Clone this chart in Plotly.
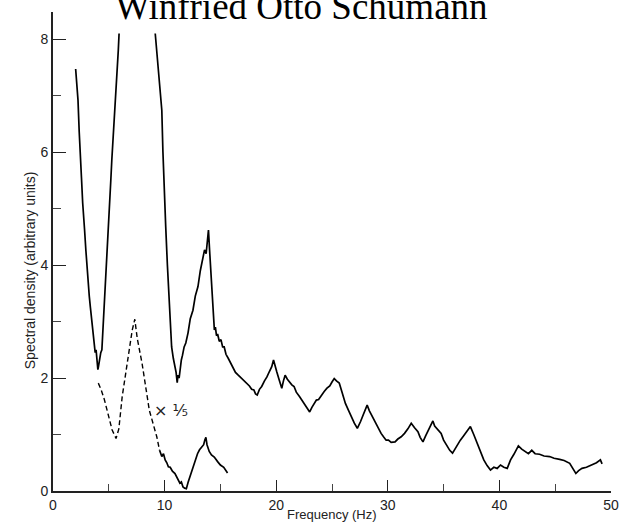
import plotly.graph_objects as go

# Upper (solid) spectrum, first part (up to where it leaves the chart)
freq_a = [2.03, 2.12, 2.24, 2.35, 2.47, 2.55, 2.66, 2.75, 2.83, 2.95, 3.05, 3.12, 3.25, 3.35, 3.47,
          3.58, 3.68, 3.78, 3.86, 3.95, 4.02, 4.07, 4.13, 4.2, 4.28, 4.38, 4.5, 4.6, 4.68, 4.8,
          4.95, 5.08, 5.18, 5.27, 5.38, 5.48, 5.6, 5.7, 5.77, 5.85, 5.92]
dens_a = [7.47, 7.2, 6.92, 6.35, 5.73, 5.55, 5.1, 4.9, 4.62, 4.25, 3.95, 3.68, 3.45, 3.25, 3.03,
          2.75, 2.55, 2.45, 2.5, 2.35, 2.15, 2.2, 2.3, 2.42, 2.45, 2.5, 2.95, 3.2, 3.38, 3.95,
          4.62, 5.05, 5.5, 5.86, 6.2, 6.62, 6.9, 7.3, 7.5, 7.8, 8.1]

# Upper (solid) spectrum, second part
freq_b = [9.16, 9.4, 9.6, 9.75, 9.85, 9.95, 10.1, 10.25, 10.4, 10.52, 10.63, 10.78, 10.93, 11.03,
          11.13, 11.2, 11.3, 11.4, 11.5, 11.6, 11.75, 11.9, 12.1, 12.3, 12.54, 12.75, 12.99, 13.2,
          13.43, 13.58, 13.72, 13.85, 13.93, 14.02, 14.1, 14.25, 14.36, 14.46, 14.55, 14.65, 14.75,
          14.9, 15.05, 15.2, 15.34, 15.5, 15.7, 15.93, 16.15, 16.35, 16.6, 16.85, 17.1, 17.35, 17.6,
          17.8, 18.0, 18.15, 18.3, 18.5, 18.7, 18.95, 19.17, 19.4, 19.6, 19.76, 19.9, 20.05, 20.25,
          20.5, 20.65, 20.8, 21.0, 21.2, 21.4, 21.6, 21.8, 22.1, 22.35, 22.6, 22.8, 23.0, 23.2, 23.4,
          23.6, 23.8, 24.05, 24.3, 24.55, 24.8, 25.0, 25.2, 25.4, 25.65, 25.9, 26.2, 26.5, 26.75,
          27.0, 27.27, 27.4, 27.56, 27.8, 28.0, 28.15, 28.35, 28.6, 28.9, 29.15, 29.4, 29.65, 29.85,
          30.06, 30.3, 30.65, 30.9, 31.2, 31.5, 31.8, 32.1, 32.4, 32.7, 32.9, 33.15, 33.4, 33.7,
          34.04, 34.2, 34.5, 34.78, 35.0, 35.3, 35.55, 35.8, 36.1, 36.5, 36.8, 37.1, 37.4, 37.7,
          38.0, 38.3, 38.6, 38.9, 39.2, 39.5, 39.8, 40.1, 40.4, 40.7, 41.0, 41.3, 41.7, 42.0, 42.3,
          42.6, 42.9, 43.2, 43.6, 44.0, 44.5, 44.9, 45.4, 45.8, 46.3, 46.6, 46.85, 47.1, 47.4, 47.8,
          48.3, 48.7, 49.05, 49.2]
dens_b = [8.1, 7.5, 7.0, 6.74, 6.0, 5.4, 4.68, 4.0, 3.38, 2.95, 2.55, 2.35, 2.2, 2.1,
          1.92, 2.05, 2.0, 2.2, 2.32, 2.4, 2.55, 2.62, 2.8, 3.05, 3.2, 3.45, 3.62, 3.9,
          4.15, 4.27, 4.2, 4.45, 4.62, 4.3, 4.03, 3.4, 3.0, 2.85, 2.9, 2.75, 2.78,
          2.65, 2.68, 2.55, 2.55, 2.42, 2.35, 2.26, 2.15, 2.1, 2.05, 2.0, 1.96, 1.9, 1.86,
          1.8, 1.79, 1.72, 1.70, 1.8, 1.85, 1.95, 2.02, 2.12, 2.2, 2.32, 2.2, 2.11, 1.98,
          1.82, 1.95, 2.05, 1.98, 1.92, 1.88, 1.85, 1.75, 1.67, 1.6, 1.52, 1.46, 1.40, 1.48, 1.55,
          1.61, 1.62, 1.7, 1.76, 1.82, 1.86, 1.93, 1.99, 1.95, 1.91, 1.75, 1.55, 1.42, 1.3,
          1.2, 1.11, 1.16, 1.23, 1.35, 1.45, 1.52, 1.42, 1.32, 1.20, 1.1, 1.02, 0.95, 0.9,
          0.90, 0.86, 0.87, 0.92, 0.96, 1.02, 1.1, 1.20, 1.12, 1.05, 0.95, 0.87, 0.98, 1.1,
          1.24, 1.15, 1.08, 1.02, 0.9, 0.8, 0.72, 0.67, 0.78, 0.90, 0.98, 1.05, 1.14, 1.0,
          0.85, 0.7, 0.55, 0.45, 0.37, 0.42, 0.4, 0.46, 0.42, 0.40, 0.55, 0.65, 0.80, 0.74, 0.70,
          0.66, 0.72, 0.66, 0.65, 0.62, 0.61, 0.58, 0.56, 0.54, 0.49, 0.40, 0.31, 0.36, 0.40, 0.42,
          0.46, 0.50, 0.55, 0.48]

# Lower curve (x 1/5), dashed part
freq_c = [4.06, 4.3, 4.6, 5.0, 5.3, 5.65, 5.9, 6.2, 6.65, 7.1, 7.33, 7.55, 7.98, 8.63, 9.3, 9.55]
dens_c = [1.91, 1.8, 1.62, 1.3, 1.08, 0.93, 1.1, 1.67, 2.26, 2.85, 3.04, 2.7, 2.26, 1.43, 0.96, 0.72]

# Lower curve (x 1/5), solid part
freq_d = [9.55, 9.75, 9.9, 10.05, 10.2, 10.34, 10.5, 10.7, 10.93, 11.1, 11.25, 11.37, 11.5, 11.65,
          11.8, 11.95, 12.1, 12.3, 12.54, 12.75, 12.95, 13.13, 13.3, 13.5, 13.6, 13.7, 13.8, 14.0,
          14.2, 14.45, 14.75, 15.0, 15.3, 15.5, 15.64]
dens_d = [0.72, 0.61, 0.66, 0.55, 0.50, 0.43, 0.42, 0.35, 0.31, 0.25, 0.2, 0.14, 0.16, 0.07,
          0.05, 0.04, 0.15, 0.28, 0.43, 0.55, 0.66, 0.73, 0.78, 0.82, 0.9, 0.95, 0.82, 0.70,
          0.64, 0.6, 0.52, 0.46, 0.42, 0.36, 0.32]

x_ticks = [0, 10, 20, 30, 40, 50]
y_ticks = [0, 2, 4, 6, 8]

line_style = dict(color="black", width=1.7)

fig = go.Figure()
fig.add_trace(go.Scatter(x=freq_a, y=dens_a, mode="lines", line=line_style, showlegend=False))
fig.add_trace(go.Scatter(x=freq_b, y=dens_b, mode="lines", line=line_style, showlegend=False))
fig.add_trace(go.Scatter(x=freq_c, y=dens_c, mode="lines",
                         line=dict(color="black", width=1.4, dash="5px,3px"), showlegend=False))
fig.add_trace(go.Scatter(x=freq_d, y=dens_d, mode="lines", line=line_style, showlegend=False))

tick_font = dict(family="Liberation Sans, Arial, sans-serif", size=14, color="#222")

fig.update_layout(
    width=629, height=526,
    margin=dict(l=53, r=10, t=12, b=35),
    paper_bgcolor="white", plot_bgcolor="white",
    xaxis=dict(range=[0, 50], tickvals=x_ticks, ticktext=[str(v) for v in x_ticks],
               ticks="inside", ticklen=11, tickwidth=1.3, tickcolor="#222",
               minor=dict(dtick=5, tick0=0, ticks="inside", ticklen=7, tickwidth=1.1, tickcolor="#444"),
               showline=True, linecolor="#222", linewidth=1.6, showgrid=False, zeroline=False,
               tickfont=tick_font),
    yaxis=dict(range=[0, 8.48], tickvals=y_ticks, ticktext=[str(v) for v in y_ticks],
               ticks="inside", ticklen=13, tickwidth=1.3, tickcolor="#222",
               minor=dict(dtick=1, tick0=0, ticks="inside", ticklen=8, tickwidth=1.1, tickcolor="#444"),
               showline=True, linecolor="#222", linewidth=1.6, showgrid=False, zeroline=False,
               tickfont=tick_font),
    annotations=[
        dict(text="Winfried Otto Schumann", xref="paper", yref="paper", x=0.445, y=1.012,
             xanchor="center", yanchor="middle", showarrow=False,
             font=dict(family="Liberation Serif, Times New Roman, serif", size=37, color="black")),
        dict(text="Frequency (Hz)", xref="paper", yref="paper", x=0.5, y=-0.05,
             xanchor="center", yanchor="middle", showarrow=False,
             font=dict(family="Liberation Sans, Arial, sans-serif", size=13, color="#222")),
        dict(text="Spectral density (arbitrary units)", xref="paper", yref="paper",
             x=-0.042, y=0.46, xanchor="center", yanchor="middle", textangle=-90, showarrow=False,
             font=dict(family="Liberation Sans, Arial, sans-serif", size=14, color="#222")),
        dict(text="× ⅕", xref="x", yref="y", x=10.6, y=1.42, xanchor="center", yanchor="middle",
             showarrow=False, font=dict(family="DejaVu Sans, sans-serif", size=16, color="#222")),
    ],
)

fig.write_html("out.html", config={"displayModeBar": False},
               post_script="document.body.style.margin='0';")
